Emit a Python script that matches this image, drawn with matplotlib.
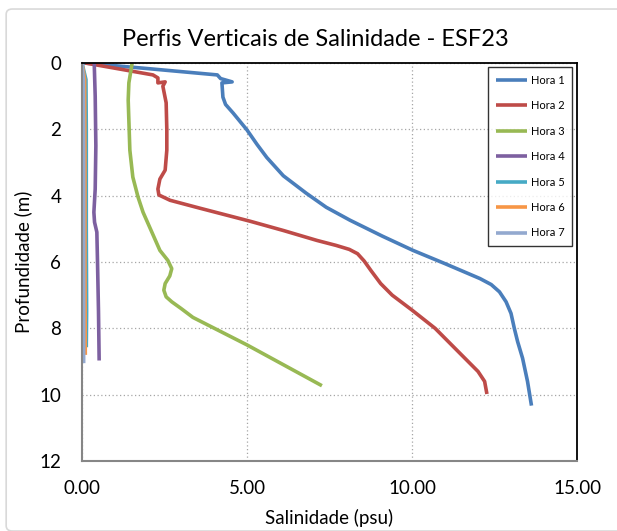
import matplotlib.pyplot as plt
from matplotlib.patches import FancyBboxPatch

# salinity (psu) and depth (m)
sal1 = [0.05, 2.0, 4.1, 4.2, 4.55, 4.24, 4.27, 4.35, 4.58, 5.0, 5.3, 5.6, 6.1, 6.8, 7.4,
        8.12, 9.1, 10.03, 11.0, 12.06, 12.4, 12.65, 12.85, 13.0, 13.1, 13.2, 13.35, 13.5, 13.62]
dep1 = [0.0, 0.17, 0.36, 0.47, 0.57, 0.6, 1.03, 1.25, 1.51, 2.02, 2.45, 2.85, 3.4, 3.93, 4.35,
        4.74, 5.22, 5.65, 6.05, 6.5, 6.68, 6.9, 7.2, 7.55, 8.0, 8.4, 8.9, 9.6, 10.33]

sal2 = [0.1, 2.15, 2.3, 2.3, 2.52, 2.45, 2.55, 2.57, 2.57, 2.52, 2.36, 2.3, 2.33, 2.67, 3.58,
        5.09, 6.1, 7.12, 7.7, 8.1, 8.35, 8.55, 8.75, 9.05, 9.4, 10.0, 10.7, 11.5, 12.0, 12.2, 12.27]
dep2 = [0.0, 0.36, 0.45, 0.6, 0.57, 0.7, 1.2, 2.0, 2.63, 3.23, 3.5, 3.8, 3.98, 4.14, 4.38,
        4.77, 5.05, 5.35, 5.5, 5.62, 5.75, 5.97, 6.25, 6.65, 7.0, 7.45, 8.0, 8.8, 9.3, 9.6, 9.98]

sal3 = [1.52, 1.42, 1.4, 1.45, 1.54, 1.7, 1.85, 2.05, 2.36, 2.6, 2.72, 2.66, 2.52, 2.48,
        2.55, 2.72, 3.0, 3.36, 5.0, 7.27]
dep3 = [0.0, 0.6, 1.12, 2.63, 3.44, 4.05, 4.5, 4.95, 5.65, 5.95, 6.2, 6.42, 6.65, 6.85,
        7.05, 7.2, 7.4, 7.67, 8.5, 9.73]

sal4 = [0.37, 0.4, 0.42, 0.4, 0.36, 0.38, 0.45, 0.47, 0.5, 0.52]
dep4 = [0.0, 1.0, 2.5, 3.8, 4.5, 4.8, 5.1, 6.0, 7.5, 8.97]

sal5 = [0.0, 0.12, 0.13, 0.13, 0.14, 0.13]
dep5 = [0.0, 0.5, 2.0, 5.0, 7.5, 8.57]

sal6 = [0.0, 0.08, 0.09, 0.09, 0.1]
dep6 = [0.0, 0.5, 3.0, 6.0, 8.8]

sal7 = [0.0, 0.04, 0.05, 0.05, 0.05]
dep7 = [0.0, 0.5, 3.0, 6.0, 9.05]

labels = ["Hora 1", "Hora 2", "Hora 3", "Hora 4", "Hora 5", "Hora 6", "Hora 7"]
colors = ["#4a7ebb", "#be4b48", "#98b954", "#7d60a0", "#46aac5", "#f79646", "#93a9cf"]

plt.rcParams['font.family'] = ['Lato', 'DejaVu Sans']

fig = plt.figure(figsize=(6.17, 5.31), dpi=100)
ax = fig.add_axes([0.1329, 0.1318, 0.8023, 0.7496])

# chart area border
fig.patches.append(FancyBboxPatch((0.01, 0.0), 1.05, 0.983, boxstyle="round,pad=0,rounding_size=0.01",
                                  transform=fig.transFigure, fc='none', ec='#d9d9d9', lw=1.2))

series = [(sal1, dep1), (sal2, dep2), (sal3, dep3), (sal4, dep4),
          (sal5, dep5), (sal6, dep6), (sal7, dep7)]
for (s, d), lab, c in zip(series, labels, colors):
    ax.plot(s, d, color=c, lw=2.6, label=lab, solid_joinstyle='round', solid_capstyle='butt')

ax.set_xlim(0, 15)
ax.set_ylim(12, 0)
ax.set_xticks([0, 5, 10, 15])
ax.set_xticklabels(["0.00", "5.00", "10.00", "15.00"])
ax.set_yticks([0, 2, 4, 6, 8, 10, 12])

ax.grid(True, color='#a6a6a6', linestyle=(0, (1, 2)), lw=0.9)
ax.set_axisbelow(True)

for side in ['top', 'right']:
    ax.spines[side].set_color('black')
    ax.spines[side].set_linewidth(1.3)
for side in ['left', 'bottom']:
    ax.spines[side].set_color('#868686')
    ax.spines[side].set_linewidth(1.5)

ax.tick_params(axis='both', labelsize=13.5, length=0, pad=14, colors='black')
ax.tick_params(axis='y', pad=15)

# title is centred on the whole chart area, not the plot area
fig.text(0.511, 0.925, "Perfis Verticais de Salinidade - ESF23", fontsize=17,
         ha='center', va='center')
ax.set_xlabel("Salinidade (psu)", fontsize=13.5, labelpad=8)
ax.set_ylabel("Profundidade (m)", fontsize=13.5, labelpad=5)

leg = ax.legend(loc='upper right', bbox_to_anchor=(0.99, 0.99), borderaxespad=0, fontsize=8,
                frameon=True, fancybox=False, edgecolor='black', labelspacing=1.3,
                handlelength=2.8, handletextpad=0.3, borderpad=0.7)
leg.get_frame().set_linewidth(1.0)

fig.savefig("out.png", dpi=100)
